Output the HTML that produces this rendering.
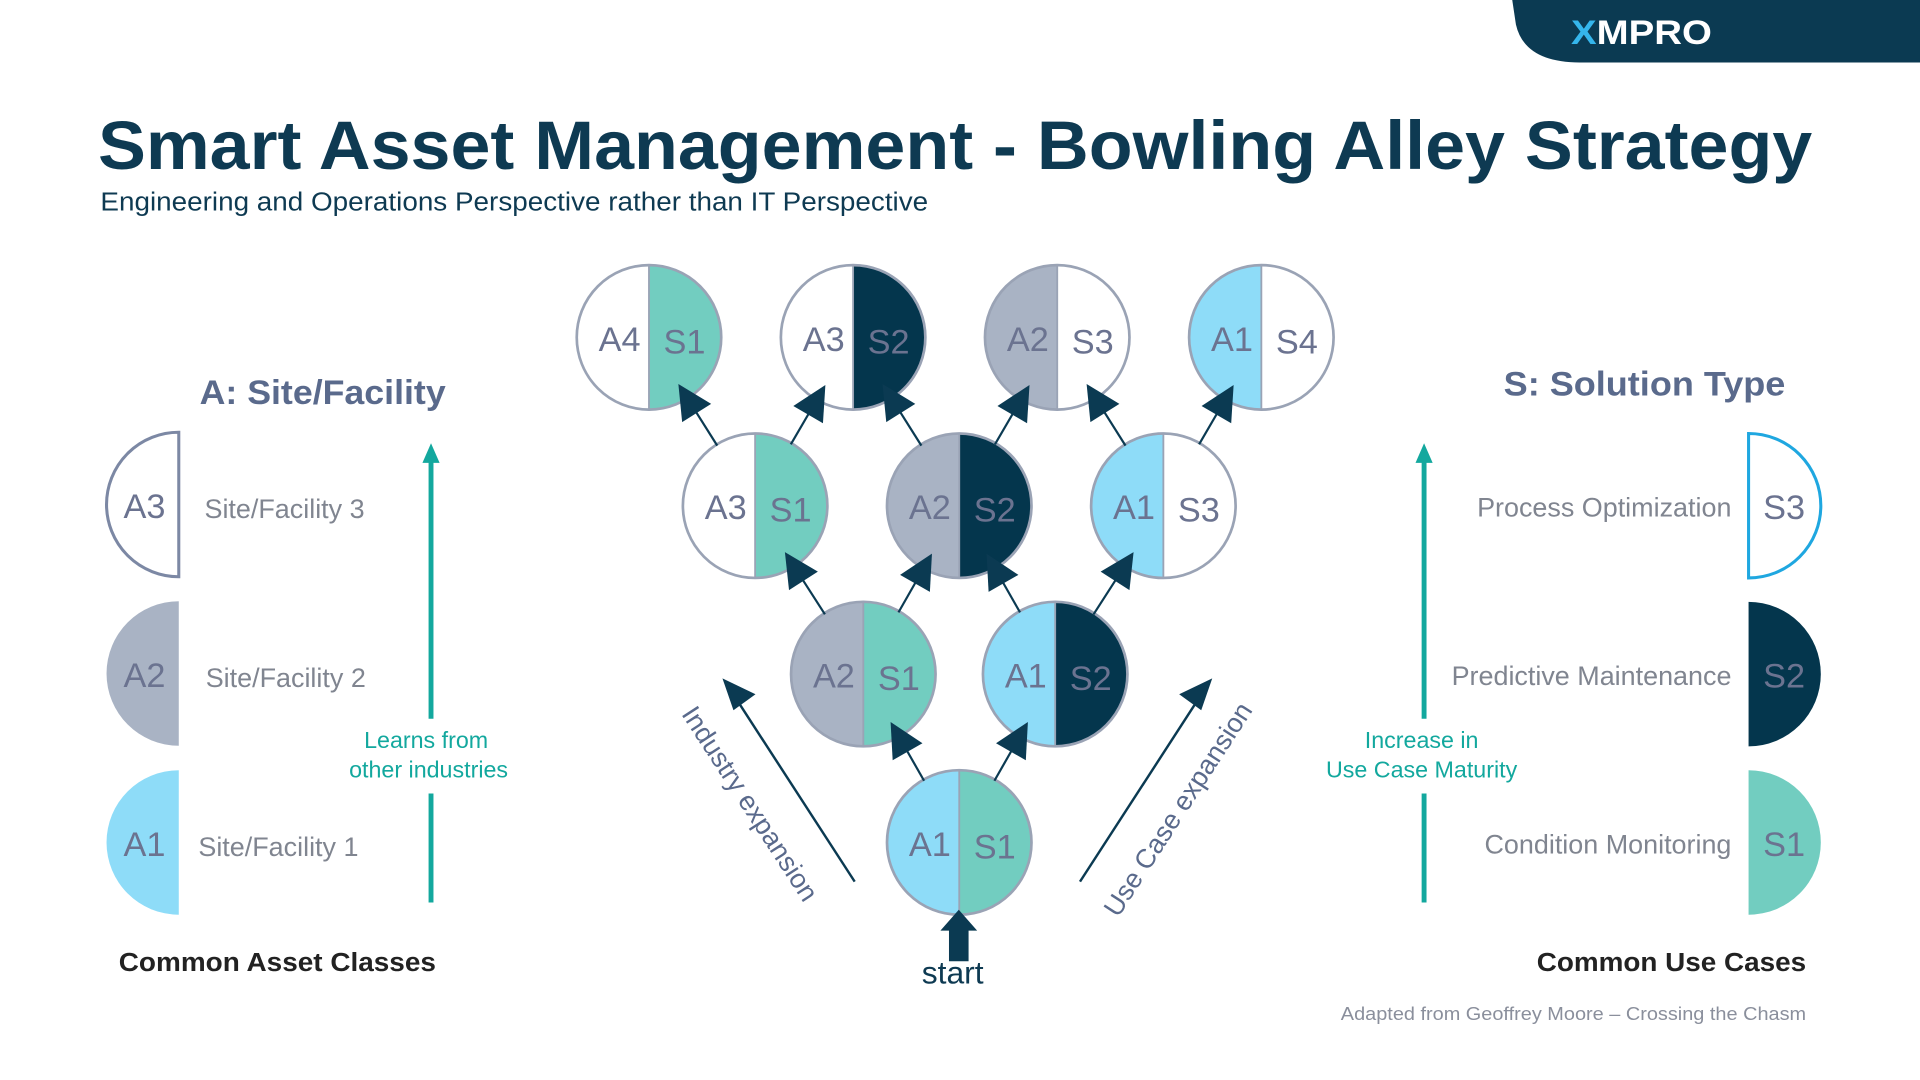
<!DOCTYPE html>
<html><head><meta charset="utf-8"><style>
html,body{margin:0;padding:0;background:#fff;width:1920px;height:1080px;overflow:hidden}
svg{display:block}
text{font-family:"Liberation Sans",Arial,sans-serif}
</style></head><body>
<svg id="chart" width="1920" height="1080" viewBox="0 0 1568 882" preserveAspectRatio="none" xmlns="http://www.w3.org/2000/svg">
<g>
<path d="M1235 0 H1568 V51 H1290 Q1245 51 1238 20 Z" fill="#0b3a52"/>
<text x="1283" y="36" font-size="28" font-weight="bold" fill="#fff" textLength="115" lengthAdjust="spacingAndGlyphs"><tspan fill="#35b6ec">X</tspan>MPRO</text>
</g>
<text x="80" y="138" font-size="56" font-weight="bold" fill="#0e3a52" textLength="1400" lengthAdjust="spacingAndGlyphs">Smart Asset Management - Bowling Alley Strategy</text>
<text x="82" y="172" font-size="21" fill="#0e3a52" textLength="676" lengthAdjust="spacingAndGlyphs">Engineering and Operations Perspective rather than IT Perspective</text>

<text x="163" y="330" font-size="28" font-weight="bold" fill="#5a6a8c" textLength="201" lengthAdjust="spacingAndGlyphs">A: Site/Facility</text>
<g id="leftLegend"></g>
<line x1="352" y1="737" x2="352" y2="648" stroke="#13a89e" stroke-width="4"/>
<line x1="352" y1="587" x2="352" y2="376" stroke="#13a89e" stroke-width="4"/>
<path d="M352 362 L345 378 L359 378 Z" fill="#13a89e"/>
<text x="348" y="611" font-size="19" fill="#13a89e" text-anchor="middle">Learns from</text>
<text x="350" y="635" font-size="19" fill="#13a89e" text-anchor="middle">other industries</text>
<text x="97" y="793" font-size="21" font-weight="bold" fill="#222" textLength="259" lengthAdjust="spacingAndGlyphs">Common Asset Classes</text>

<text x="1228" y="323" font-size="28" font-weight="bold" fill="#5a6a8c" textLength="230" lengthAdjust="spacingAndGlyphs">S: Solution Type</text>
<g id="rightLegend"></g>
<line x1="1163" y1="737" x2="1163" y2="648" stroke="#13a89e" stroke-width="4"/>
<line x1="1163" y1="587" x2="1163" y2="376" stroke="#13a89e" stroke-width="4"/>
<path d="M1163 362 L1156 378 L1170 378 Z" fill="#13a89e"/>
<text x="1161" y="611" font-size="19" fill="#13a89e" text-anchor="middle">Increase in</text>
<text x="1161" y="635" font-size="19" fill="#13a89e" text-anchor="middle">Use Case Maturity</text>
<text x="1475" y="793" font-size="21" font-weight="bold" fill="#222" text-anchor="end" textLength="220" lengthAdjust="spacingAndGlyphs">Common Use Cases</text>
<text x="1475" y="833" font-size="15" fill="#8a8f9c" text-anchor="end" textLength="380" lengthAdjust="spacingAndGlyphs">Adapted from Geoffrey Moore – Crossing the Chasm</text>

<g id="expansion">
<line x1="698" y1="720" x2="604" y2="575" stroke="#0b3a52" stroke-width="2"/>
<path d="M590 554 L617 567 L599 580 Z" fill="#0b3a52"/>
<line x1="882" y1="720" x2="976" y2="575" stroke="#0b3a52" stroke-width="2"/>
<path d="M990 554 L963 567 L981 580 Z" fill="#0b3a52"/>
<text transform="translate(556,583) rotate(57)" font-size="22" fill="#5a6a8c">Industry expansion</text>
<text transform="translate(913,750) rotate(-57)" font-size="22" fill="#5a6a8c">Use Case expansion</text>
</g>
<g id="links"></g>
<g id="nodes"></g>
<path d="M783 743 L768 760 L775 760 L775 785 L791 785 L791 760 L798 760 Z" fill="#0b3a52"/>
<text x="778" y="803" font-size="26" fill="#0e3a52" text-anchor="middle">start</text>
</svg>
<script>
const NS="http://www.w3.org/2000/svg";
const nodeAssets=["A4","A3","A2","A1","A3","A2","A1","A2","A1","A1"];
const nodeSolutions=["S1","S2","S3","S4","S1","S2","S3","S1","S2","S1"];
const nodeCols=[0,1,2,3,0.52,1.52,2.52,1.05,1.99,1.52];
const nodeRows=[3,3,3,3,2,2,2,1,1,0];
const linkFrom=[9,9,7,7,8,8,4,4,5,5,6,6];
const linkTo=[7,8,4,5,5,6,0,1,1,2,2,3];
const assetNames=["A1","A2","A3"];
const assetLabels=["Site/Facility 1","Site/Facility 2","Site/Facility 3"];
const solutionNames=["S1","S2","S3"];
const solutionLabels=["Condition Monitoring","Predictive Maintenance","Process Optimization"];

const aFill={A1:"#8edcf8",A2:"#a9b3c4",A3:"#fff",A4:"#fff"};
const sFill={S1:"#72cdc0",S2:"#04364d",S3:"#fff",S4:"#fff"};
const R=59;
const xOf=c=>530+c*166.7;
const yOf=r=>688-r*137.5;
function mk(tag,attrs,parent){const e=document.createElementNS(NS,tag);for(const k in attrs)e.setAttribute(k,attrs[k]);parent.appendChild(e);return e;}

const nodes=document.getElementById("nodes");
for(let i=0;i<nodeAssets.length;i++){
  const cx=xOf(nodeCols[i]),cy=yOf(nodeRows[i]);
  const g=mk("g",{},nodes);
  
  
  mk("path",{d:`M${cx} ${cy-R} A${R} ${R} 0 0 0 ${cx} ${cy+R} Z`,fill:aFill[nodeAssets[i]]},g);
  mk("path",{d:`M${cx} ${cy-R} A${R} ${R} 0 0 1 ${cx} ${cy+R} Z`,fill:sFill[nodeSolutions[i]]},g);
  mk("line",{x1:cx,y1:cy-R,x2:cx,y2:cy+R,stroke:"#9aa3b5","stroke-width":1.5},g);
  mk("circle",{cx:cx,cy:cy,r:R,fill:"none",stroke:"#9aa3b5","stroke-width":2.2},g);
  const t1=mk("text",{x:cx-24,y:cy+11,"font-size":28,fill:"#6b7390","text-anchor":"middle"},g);t1.textContent=nodeAssets[i];
  const t2=mk("text",{x:cx+29,y:cy+13,"font-size":28,fill:"#6b7390","text-anchor":"middle"},g);t2.textContent=nodeSolutions[i];
}
const links=document.getElementById("links");
document.getElementById("chart").appendChild(links);
for(let i=0;i<linkFrom.length;i++){
  const a=linkFrom[i],b=linkTo[i];
  const x1=xOf(nodeCols[a]),y1=yOf(nodeRows[a]),x2=xOf(nodeCols[b]),y2=yOf(nodeRows[b]);
  const dx=x2-x1,dy=y2-y1,L=Math.hypot(dx,dy),ux=dx/L,uy=dy/L;
  const sx=x1+ux*(R-1),sy=y1+uy*(R-1),tx=x2-ux*(R-14),ty=y2-uy*(R-14);
  const g=mk("g",{},links);
  
  
  mk("line",{x1:sx,y1:sy,x2:tx-ux*24,y2:ty-uy*24,stroke:"#0b3a52","stroke-width":1.8},g);
  const bx=tx-ux*28,by=ty-uy*28,px=-uy*14,py=ux*14;
  mk("path",{d:`M${tx} ${ty} L${bx+px} ${by+py} L${bx-px} ${by-py} Z`,fill:"#0b3a52"},g);
}
const left=document.getElementById("leftLegend");
for(let i=0;i<assetNames.length;i++){
  const cy=688-i*138,cx=146;
  const g=mk("g",{},left);
  
  
  const white=assetNames[i]==="A3";
  mk("path",{d:`M${cx} ${cy-R} A${R} ${R} 0 0 0 ${cx} ${cy+R} Z`,fill:aFill[assetNames[i]],stroke:white?"#7c88a4":"none","stroke-width":2.5},g);
  const t=mk("text",{x:cx-28,y:cy+11,"font-size":28,fill:"#6b7390","text-anchor":"middle"},g);t.textContent=assetNames[i];
  const l=mk("text",{x:[162,168,167][i],y:cy+11,"font-size":22,fill:"#808590"},g);l.textContent=assetLabels[i];
}
const right=document.getElementById("rightLegend");
for(let i=0;i<solutionNames.length;i++){
  const cy=688-i*137.5,cx=1428;
  const g=mk("g",{},right);
  
  
  const white=solutionNames[i]==="S3";
  mk("path",{d:`M${cx} ${cy-R} A${R} ${R} 0 0 1 ${cx} ${cy+R} Z`,fill:sFill[solutionNames[i]],stroke:white?"#1fa7e0":"none","stroke-width":2.5},g);
  const t=mk("text",{x:cx+29,y:cy+11,"font-size":28,fill:"#6b7390","text-anchor":"middle"},g);t.textContent=solutionNames[i];
  const l=mk("text",{x:1414,y:cy+9,"font-size":22,fill:"#808590","text-anchor":"end"},g);l.textContent=solutionLabels[i];
}
</script>
</body></html>
